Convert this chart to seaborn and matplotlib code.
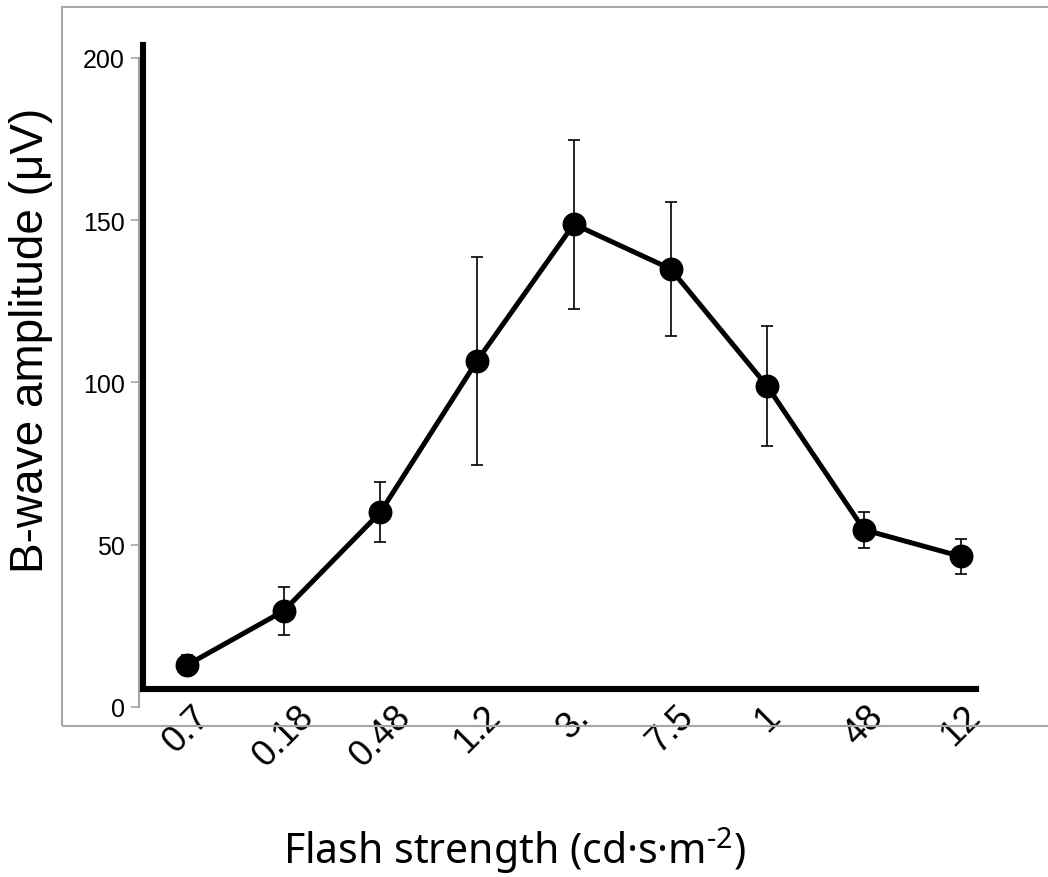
import numpy as np
import pandas as pd
import matplotlib.pyplot as plt
import matplotlib.patches as mpatches
import seaborn as sns

sns.set_theme(style="white")
plt.rcParams['font.family'] = ['Liberation Sans', 'DejaVu Sans']
plt.rcParams['mathtext.fontset'] = 'custom'
plt.rcParams['mathtext.rm'] = 'Noto Sans'
plt.rcParams['text.color'] = 'black'
plt.rcParams['axes.labelcolor'] = 'black'

flash_labels = ['0.7', '0.18', '0.48', '1.2', '3.', '7.5', '1', '48', '12']
amplitude    = [12.9, 29.6, 60.0, 106.7, 148.8, 135.0, 98.8, 54.6, 46.4]
amp_err      = [3.0, 7.3, 9.3, 32.0, 26.0, 20.6, 18.5, 5.6, 5.4]
y_ticks      = [0, 50, 100, 150, 200]

df = pd.DataFrame({'flash': flash_labels, 'amp': amplitude, 'err': amp_err})

W, H = 1048, 878
fig = plt.figure(figsize=(W / 100, H / 100), dpi=100)

# gray frame around the plot area (right edge runs off the picture)
fig.patches.append(mpatches.Rectangle((62 / W, (H - 727) / H), 1.2, (727 - 8) / H,
                                      transform=fig.transFigure, fill=False,
                                      edgecolor='#a6a6a6', linewidth=1.5))

ax = fig.add_axes([138.5 / W, (H - 708) / H, 870.75 / W, 662 / H])
ax.patch.set_alpha(0)

# error bars first, then the line + markers on top
ax.errorbar(np.arange(len(df)), df['amp'], yerr=df['err'], fmt='none',
            ecolor='black', elinewidth=1.2, capsize=4, capthick=1.2, zorder=2)
sns.pointplot(data=df, x='flash', y='amp', color='black', errorbar=None,
              markers='o', markersize=14.5, linewidth=3.6, ax=ax, zorder=3)

ax.set_xlim(-0.5, 8.5)
ax.set_ylim(0, 204)
ax.set_yticks(y_ticks)
ax.tick_params(axis='y', labelsize=18, length=6, width=1.2, color='#a6a6a6',
               labelcolor='black', left=True, pad=4)
ax.tick_params(axis='x', bottom=False, length=0, labelsize=26, labelcolor='black',
               pad=-6)
for lbl in ax.get_xticklabels():
    lbl.set_rotation(45)
    lbl.set_ha('center')

for s in ['top', 'right', 'bottom']:
    ax.spines[s].set_visible(False)
ax.spines['left'].set_color('#a6a6a6')
ax.spines['left'].set_linewidth(1.5)
ax.spines['left'].set_bounds(0, 200)

ax.set_ylabel('B-wave amplitude (μV)', fontsize=33)
ax.yaxis.set_label_coords((53 - 138.5) / 870.75, (708 - 340) / 662)

xl = ax.set_xlabel('Flash strength (cd·s·m$^{\\text{-2}}$)', fontsize=29.5,
                   family=['Noto Sans', 'DejaVu Sans'])
xl.set_va('baseline')
ax.xaxis.set_label_coords((514.5 - 138.5) / 870.75, (708 - 864) / 662)

# thick black L drawn over the plot
ov = fig.add_axes([143 / W, (H - 689.7) / H, (976 - 143) / W, (689.7 - 46) / H])
ov.patch.set_alpha(0)
ov.set_xticks([])
ov.set_yticks([])
for s in ['top', 'right']:
    ov.spines[s].set_visible(False)
for s in ['left', 'bottom']:
    ov.spines[s].set_color('black')
    ov.spines[s].set_linewidth(4.4)
    ov.spines[s].set_capstyle('projecting')

fig.savefig('out.png', dpi=100)
